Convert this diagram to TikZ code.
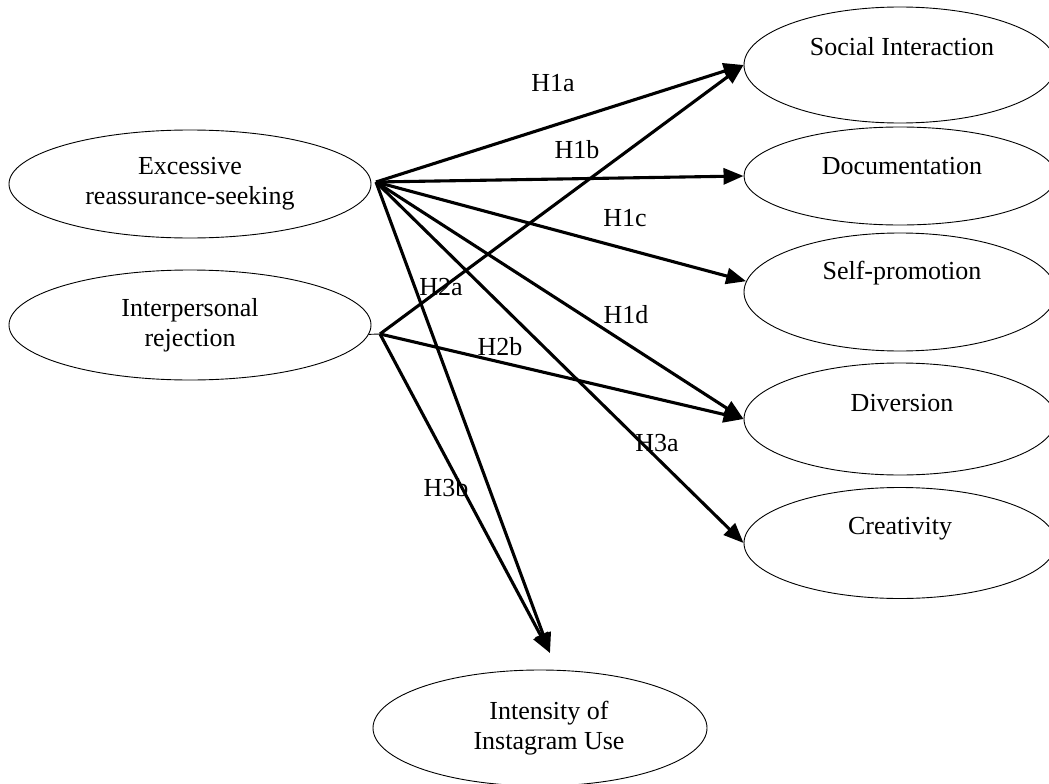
\documentclass[tikz,border=0pt]{standalone}
\usepackage{fontspec}
\setmainfont{Liberation Serif}
\usetikzlibrary{shapes.geometric,arrows.meta}

\begin{document}
\begin{tikzpicture}[x=1pt,y=-1pt,
	oval/.style={ellipse,draw,line width=0.9pt,inner sep=0pt,align=center,font=\fontsize{26}{30}\selectfont},
	use/.style={oval,minimum width=312pt},
	hyp/.style={font=\fontsize{26}{30}\selectfont,inner sep=0pt},
	link/.style={line width=3.1pt,-{Triangle[length=20pt,width=16pt]}}]
	\useasboundingbox (0,0) rectangle (1049,784);

	% predictors
	\node[oval,minimum width=362pt,minimum height=108pt] (ers) at (190,184) {Excessive\\reassurance-seeking};
	\node[oval,minimum width=362pt,minimum height=110pt] (ir) at (190,325) {Interpersonal\\rejection};

	% outcomes
	\node[use,minimum height=116pt,label={[hyp,yshift=18pt,xshift=2pt]center:Social Interaction}] (si) at (900,65) {};
	\node[use,minimum height=98pt,label={[hyp,yshift=10pt,xshift=2pt]center:Documentation}] (doc) at (900,176) {};
	\node[use,minimum height=118pt,label={[hyp,yshift=19pt,xshift=2pt]center:Self-promotion}] (sp) at (900,292) {};
	\node[use,minimum height=112pt,label={[hyp,yshift=16pt,xshift=2pt]center:Diversion}] (div) at (900,419) {};
	\node[use,minimum height=111pt,label={[hyp,yshift=14pt,xshift=0pt]center:Creativity}] (cre) at (900,543) {};
	\node[oval,minimum width=334pt,minimum height=116pt] (int) at (540,728) {\hspace*{18pt}Intensity of\\\hspace*{18pt}Instagram Use};

	\coordinate (ersout) at (376,182);
	\coordinate (irout) at (380,334);
	\coordinate (intin) at (550,653);
	\draw[line width=0.9pt] (ir.-3) -- (irout);

	\draw[link] (ersout) -- (si.west);
	\draw[link] (ersout) -- (doc.west);
	\draw[link] (ersout) -- (sp.176);
	\draw[link] (ersout) -- (div.west);
	\draw[link] (ersout) -- (cre.west);
	\draw[link] (ersout) -- (intin);
	\draw[link] (irout) -- (si.west);
	\draw[link] (irout) -- (div.west);
	\draw[link] (irout) -- (intin);

	% hypotheses
	\node[hyp] (h1a) at (553,83) {H1a};
	\node[hyp] (h1b) at (577,150) {H1b};
	\node[hyp] (h1c) at (625,218) {H1c};
	\node[hyp] (h1d) at (626,315) {H1d};
	\node[hyp] (h2a) at (441,287) {H2a};
	\node[hyp] (h2b) at (500,347) {H2b};
	\node[hyp] (h3a) at (657,443) {H3a};
	\node[hyp] (h3b) at (446,488) {H3b};
\end{tikzpicture}
\end{document}
